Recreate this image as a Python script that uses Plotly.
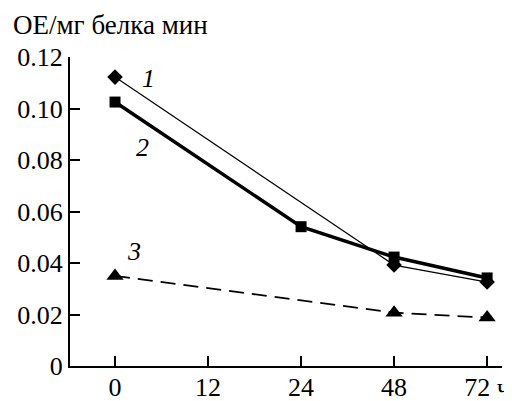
import plotly.graph_objects as go

categories = ["0", "12", "24", "48", "72 ч"]
s1_x = ["0", "48", "72 ч"]
s1_y = [0.1122, 0.0392, 0.0326]
s2_x = ["0", "24", "48", "72 ч"]
s2_y = [0.1025, 0.0541, 0.0423, 0.0342]
s3_x = ["0", "48", "72 ч"]
s3_y = [0.035, 0.0207, 0.0188]
y_ticks = [0, 0.02, 0.04, 0.06, 0.08, 0.10, 0.12]
y_ticktext = ["0", "0.02", "0.04", "0.06", "0.08", "0.10", "0.12"]

FONT = "Liberation Serif"
FS = 26
fig = go.Figure()
fig.add_trace(go.Scatter(x=s1_x, y=s1_y, mode="lines+markers",
                         line=dict(color="black", width=1.2),
                         marker=dict(symbol="diamond", size=12, color="black"),
                         cliponaxis=False))
fig.add_trace(go.Scatter(x=s2_x, y=s2_y, mode="lines+markers",
                         line=dict(color="black", width=3.5),
                         marker=dict(symbol="square", size=11, color="black"),
                         cliponaxis=False))
fig.add_trace(go.Scatter(x=s3_x, y=s3_y, mode="lines+markers",
                         line=dict(color="black", width=1.8, dash="15px,8px"),
                         marker=dict(symbol="triangle-up", size=15, color="black"),
                         cliponaxis=False))

for txt, xv, yv in [("1", 0.355, 0.1118), ("2", 0.30, 0.0847), ("3", 0.204, 0.0443)]:
    fig.add_annotation(x=xv, y=yv, xref="x", yref="y", text="<i>" + txt + "</i>",
                       showarrow=False, font=dict(family=FONT, size=FS, color="black"))
fig.add_annotation(x=-0.136, y=1.105, xref="paper", yref="paper", text="ОЕ/мг белка мин",
                   xanchor="left", yanchor="middle",
                   showarrow=False, font=dict(family=FONT, size=27, color="black"))

fig.update_layout(
    width=504, height=393,
    margin=dict(l=62, r=10, t=49, b=35, autoexpand=False),
    paper_bgcolor="white", plot_bgcolor="white",
    showlegend=False,
    font=dict(family=FONT, size=FS, color="black"),
)
fig.update_xaxes(type="category", categoryorder="array", categoryarray=categories,
                 range=[-0.484, 4.16], showline=True, linecolor="black", linewidth=2,
                 ticks="inside", ticklen=10, tickwidth=2, tickcolor="black",
                 showgrid=False, zeroline=False, tickfont=dict(family=FONT, size=FS),
                 ticklabelstandoff=-3, automargin=False)
fig.update_yaxes(range=[0, 0.12], tickvals=y_ticks, ticktext=y_ticktext,
                 showline=True, linecolor="black", linewidth=2,
                 ticks="inside", ticklen=10, tickwidth=2, tickcolor="black",
                 showgrid=False, zeroline=False, tickfont=dict(family=FONT, size=FS),
                 automargin=False)
fig.write_html("out.html")
